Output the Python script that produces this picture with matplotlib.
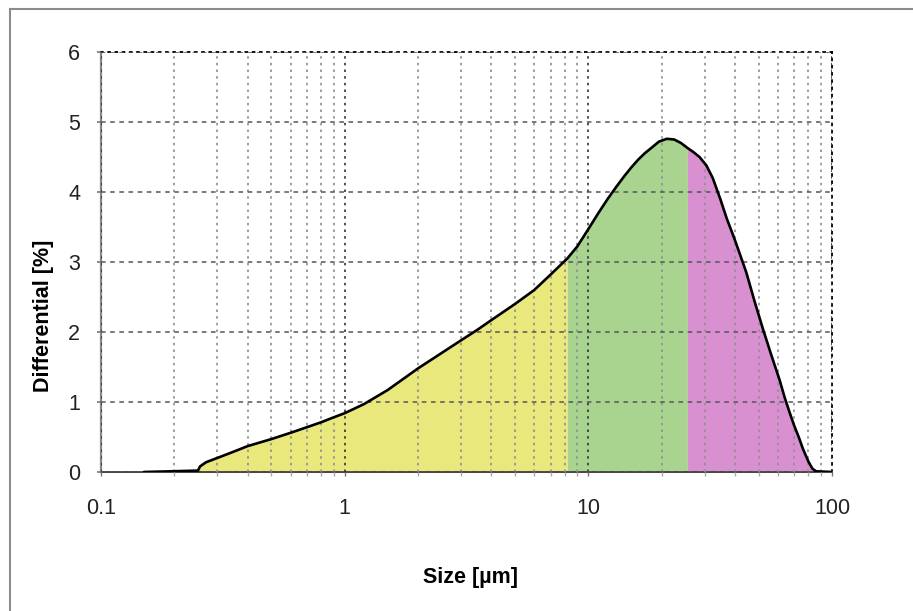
"""Particle size distribution (differential %)"""

import matplotlib
matplotlib.use("Agg")
import matplotlib.pyplot as plt
from matplotlib import ticker as mticker
from matplotlib.lines import Line2D

plt.rcParams["font.family"] = ["Liberation Sans", "DejaVu Sans"]

# values
size_um = [0.15, 0.25, 0.255, 0.27, 0.3, 0.35, 0.4, 0.5, 0.6, 0.7, 0.8,
           0.9, 1.0, 1.2, 1.5, 2.0, 2.5, 3.0, 3.5, 4.0, 5.0, 6.0, 7.0, 8.2,
           9.0, 10.0, 11.0, 12.0, 13.0, 14.0, 15.0, 16.0, 17.0, 18.0, 19.5,
           21.0, 22.5, 24.0, 25.5, 27.0, 28.6, 30.5, 32.4, 34.8, 37.0, 39.6,
           42.0, 44.5, 48.0, 52.0, 56.0, 61.0, 64.0, 67.0, 70.0, 73.0, 76.0,
           80.0, 83.0, 86.0, 100.0]
diff_pct = [0.0, 0.02, 0.08, 0.14, 0.2, 0.29, 0.37, 0.47, 0.56, 0.64, 0.71,
            0.78, 0.84, 0.97, 1.17, 1.48, 1.7, 1.88, 2.03, 2.17, 2.4, 2.6,
            2.82, 3.05, 3.22, 3.47, 3.7, 3.9, 4.07, 4.22, 4.35, 4.46, 4.55,
            4.62, 4.72, 4.76, 4.75, 4.7, 4.63, 4.57, 4.5, 4.38, 4.2, 3.9,
            3.62, 3.35, 3.1, 2.85, 2.45, 2.05, 1.7, 1.31, 1.06, 0.85, 0.66,
            0.5, 0.33, 0.15, 0.05, 0.01, 0.0]
cut_fine = 8.2     # yellow / green boundary
cut_coarse = 25.5  # green / magenta boundary
x_ticks = [0.1, 1, 10, 100]
x_tick_labels = ["0.1", "1", "10", "100"]
y_ticks = [0, 1, 2, 3, 4, 5, 6]

fig = plt.figure(figsize=(9.13, 6.11), dpi=100)
ax = fig.add_axes([101 / 913, 1 - 472 / 611, 731 / 913, 420 / 611])

# coloured bands under the curve
bands = [(size_um[0], cut_fine, "#e8e87c"),
         (cut_fine, cut_coarse, "#a9d490"),
         (cut_coarse, size_um[-1], "#d890d0")]
for lo, hi, col in bands:
    xs = [s for s in size_um if lo <= s <= hi]
    ys = [d for s, d in zip(size_um, diff_pct) if lo <= s <= hi]
    ax.fill_between(xs, 0, ys, color=col, lw=0, zorder=1)

ax.plot(size_um, diff_pct, color="black", lw=1.9, zorder=3,
        solid_capstyle="round", solid_joinstyle="round")

ax.set_xscale("log")
ax.set_xlim(0.1, 100)
ax.set_ylim(0, 6)
ax.set_xticks(x_ticks)
ax.set_xticklabels(x_tick_labels)
ax.xaxis.set_minor_locator(mticker.LogLocator(base=10, subs=range(2, 10)))
ax.xaxis.set_minor_formatter(mticker.NullFormatter())
ax.set_yticks(y_ticks)

ax.set_axisbelow(False)
ax.grid(True, which="major", axis="y", color="#555555", lw=1.1,
        ls=(0, (3, 3)), zorder=2.5)
ax.grid(True, which="major", axis="x", color="#333333", lw=1.2,
        ls=(0, (1.5, 2.5)), zorder=2.5)
ax.grid(True, which="minor", axis="x", color="#8f8f8f", lw=1.2,
        ls=(0, (1.5, 2.5)), zorder=2.5)

for side in ["top", "right"]:
    ax.spines[side].set_linestyle((0, (1, 3)))
    ax.spines[side].set_color("black")
    ax.spines[side].set_linewidth(1.3)
ax.spines["left"].set_color("#888888")
ax.spines["left"].set_linewidth(1.6)
ax.spines["bottom"].set_color("#444444")
ax.spines["bottom"].set_linewidth(1.4)

ax.tick_params(axis="y", which="major", direction="out", length=3,
               width=1.2, color="#777777", pad=12, labelsize=15.5,
               labelcolor="#222222")
ax.tick_params(axis="x", which="major", direction="out", length=3,
               width=1.0, color="#777777", pad=16, labelsize=15.5,
               labelcolor="#222222")
ax.tick_params(axis="x", which="minor", direction="out", length=3,
               width=1.0, color="#aaaaaa")

ax.set_ylabel("Differential [%]", fontsize=15.5, fontweight="bold",
              va="center")
ax.yaxis.set_label_coords(-0.079, 0.371)
ax.set_xlabel("Size [\u00b5m]", fontsize=15.5, fontweight="bold",
              va="center")
ax.xaxis.set_label_coords(0.506, -0.252)

# outer frame (left and top edges only, the rest is cut off)
fig.add_artist(Line2D([10 / 913, 10 / 913], [0, 1 - 9 / 611],
                      transform=fig.transFigure, color="#8c8c8c", lw=1.5))
fig.add_artist(Line2D([10 / 913, 1], [1 - 9 / 611, 1 - 9 / 611],
                      transform=fig.transFigure, color="#8c8c8c", lw=1.5))

fig.savefig("out.png", dpi=100)
